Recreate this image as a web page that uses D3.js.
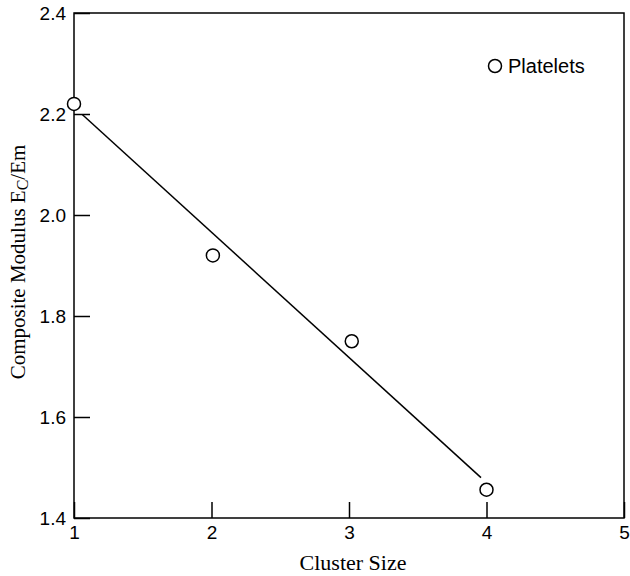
<!DOCTYPE html>
<html><head><meta charset="utf-8">
<script src="https://cdn.jsdelivr.net/npm/d3@7"></script>
<style>body{margin:0;background:#fff}</style>
</head><body>
<svg id="c" width="630" height="576"></svg>
<script>
const clusterSize = [1.0, 2.01, 3.02, 4.0];
const modulus = [2.22, 1.92, 1.75, 1.456];
const fitX = [1.06, 3.96];
const fitY = [2.199, 1.48];
const xTicks = [1, 2, 3, 4, 5];
const yTicks = [1.4, 1.6, 1.8, 2.0, 2.2, 2.4];
const seriesName = "Platelets";

const svg = d3.select("#c");
const L = 74, R = 624, T = 13, B = 518;
const x = d3.scaleLinear().domain([1, 5]).range([L, R]);
const y = d3.scaleLinear().domain([1.4, 2.4]).range([B, T]);
const sans = "'Liberation Sans', Arial, Helvetica, sans-serif";
const serif = "'Liberation Serif', 'Times New Roman', serif";

// frame
svg.append("rect").attr("x", L).attr("y", T).attr("width", R - L).attr("height", B - T)
  .attr("fill", "none").attr("stroke", "#000").attr("stroke-width", 1.5);

// bottom axis (inward ticks)
const xa = svg.append("g").attr("transform", `translate(0,${B})`)
  .call(d3.axisBottom(x).tickValues(xTicks).tickSize(-16).tickPadding(8).tickFormat(d3.format("d")));
xa.select(".domain").remove();
xa.selectAll(".tick line").attr("stroke", "#000").attr("stroke-width", 1.5);
xa.selectAll("text").attr("font-family", sans).attr("font-size", 19).attr("fill", "#000");

// left axis (inward ticks)
const ya = svg.append("g").attr("transform", `translate(${L},0)`)
  .call(d3.axisLeft(y).tickValues(yTicks).tickSize(-16).tickPadding(8).tickFormat(d3.format(".1f")));
ya.select(".domain").remove();
ya.selectAll(".tick line").attr("stroke", "#000").attr("stroke-width", 1.5);
ya.selectAll("text").attr("font-family", sans).attr("font-size", 19).attr("fill", "#000");

// fit line
svg.append("path")
  .datum(fitX.map((v, i) => [v, fitY[i]]))
  .attr("d", d3.line().x(d => x(d[0])).y(d => y(d[1])))
  .attr("fill", "none").attr("stroke", "#000").attr("stroke-width", 1.5);

// points
svg.selectAll("circle.pt").data(clusterSize.map((v, i) => [v, modulus[i]])).enter()
  .append("circle").attr("class", "pt")
  .attr("cx", d => x(d[0])).attr("cy", d => y(d[1])).attr("r", 6.5)
  .attr("fill", "#fff").attr("stroke", "#000").attr("stroke-width", 1.5);

// legend
svg.append("circle").attr("cx", 495).attr("cy", 66).attr("r", 6.5)
  .attr("fill", "#fff").attr("stroke", "#000").attr("stroke-width", 1.5);
svg.append("text").attr("x", 508).attr("y", 73).attr("font-family", sans).attr("font-size", 20)
  .text(seriesName);

// axis titles
svg.append("text").attr("x", 353).attr("y", 570).attr("text-anchor", "middle")
  .attr("font-family", serif).attr("font-size", 22).text("Cluster Size");

const yt = svg.append("text").attr("transform", `translate(25,262) rotate(-90)`)
  .attr("text-anchor", "middle").attr("font-family", serif).attr("font-size", 21);
yt.append("tspan").text("Composite Modulus E");
yt.append("tspan").attr("dy", 3).attr("font-size", 16).text("C");
yt.append("tspan").attr("dy", -3).text("/Em");
</script>
</body></html>
